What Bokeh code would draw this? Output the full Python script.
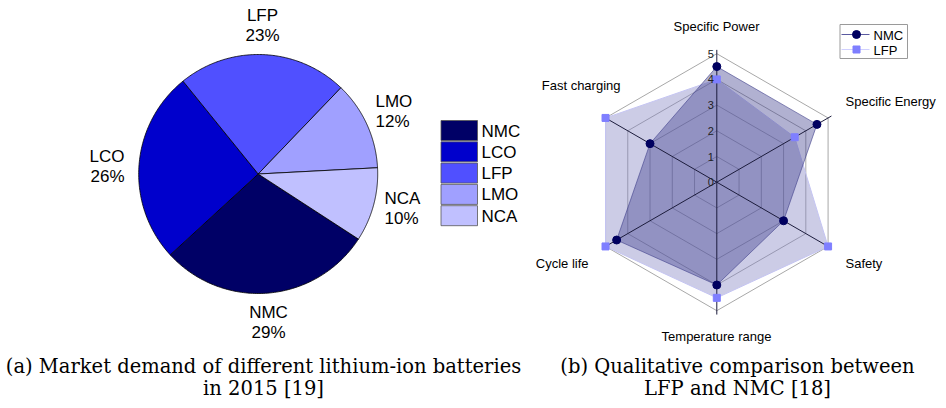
import numpy as np
from bokeh.plotting import figure
from bokeh.models import Range1d
from bokeh.core.properties import value
from bokeh.embed import file_html
from bokeh.resources import INLINE

# ---------------- data ----------------
pie_labels = ["NMC", "LCO", "LFP", "LMO", "NCA"]
pie_shares = [29, 26, 23, 12, 10]
pie_colors = ["#000066", "#0000cc", "#5050ff", "#a0a0ff", "#c0c0ff"]

radar_axes = ["Specific Power", "Specific Energy", "Safety",
              "Temperature range", "Cycle life", "Fast charging"]
nmc_scores = [4.5, 4.5, 3.0, 4.0, 4.5, 3.0]
lfp_scores = [4.0, 3.5, 5.0, 4.5, 5.0, 5.0]
radar_ticks = [0, 1, 2, 3, 4, 5]
series_names = ["NMC", "LFP"]

caption_a = ["(a) Market demand of different lithium-ion batteries", "in 2015 [19]"]
caption_b = ["(b) Qualitative comparison between", "LFP and NMC [18]"]

# ---------------- layout constants ----------------
SANS = "Liberation Sans"
SERIF = "DejaVu Serif"

p = figure(width=938, height=400, output_backend="svg", toolbar_location=None,
           x_range=Range1d(0, 938), y_range=Range1d(400, 0),
           x_axis_location=None, y_axis_location=None, min_border=0,
           outline_line_color=None, background_fill_color="white",
           border_fill_color="white")
p.grid.visible = False

# ---------------- pie ----------------
pcx, pcy, PR = 257.7, 173.5, 119.5
start_deg = -33.0
total = float(sum(pie_shares))
xs, ys = [], []
a0 = start_deg
for s in pie_shares:
    a1 = a0 - 360.0 * s / total
    t = np.radians(np.linspace(a0, a1, 120))
    xs.append([pcx] + list(pcx + PR * np.cos(t)))
    ys.append([pcy] + list(pcy - PR * np.sin(t)))
    a0 = a1
p.patches(xs, ys, fill_color=pie_colors, line_color="black", line_width=0.8)

# pie labels (name + percent), positions are layout
pie_lab_pos = {"NMC": (268, 312, "center"), "LCO": (124, 156, "right"),
               "LFP": (262, 15, "center"), "LMO": (375, 101, "left"),
               "NCA": (384, 198, "left")}
for lab, sh in zip(pie_labels, pie_shares):
    x, y, al = pie_lab_pos[lab]
    p.text([x, x], [y, y + 20], text=[lab, f"{sh}%"], text_align=al,
           text_baseline="middle", text_font=value(SANS),
           text_font_size="17px", text_color="black")

# pie legend
lx0, lx1, ly0, lstep, lh = 440.5, 477, 120, 21.3, 20
for i, (lab, col) in enumerate(zip(pie_labels, pie_colors)):
    top = ly0 + i * lstep
    p.quad(left=[lx0], right=[lx1], top=[top], bottom=[top + lh],
           fill_color=col, line_color="#555555", line_width=0.8)
    p.text([481], [top + lh / 2 + 0.5], text=[lab], text_align="left",
           text_baseline="middle", text_font=value(SANS),
           text_font_size="17px", text_color="black")

# ---------------- radar ----------------
rcx, rcy, unit = 716.3, 181.7, 25.7
n = len(radar_axes)
ang = np.radians([90 - 60 * i for i in range(n)])

def rx(v, a):
    return rcx + np.asarray(v) * unit * np.cos(a)

def ry(v, a):
    return rcy - np.asarray(v) * unit * np.sin(a)

# grid hexagons
for lev in radar_ticks[1:]:
    hx = [rx(lev, a) for a in ang] + [rx(lev, ang[0])]
    hy = [ry(lev, a) for a in ang] + [ry(lev, ang[0])]
    p.line(hx, hy, line_color="#a8a8a8", line_width=1)

# series polygons
lfp_x = [rx(v, a) for v, a in zip(lfp_scores, ang)]
lfp_y = [ry(v, a) for v, a in zip(lfp_scores, ang)]
nmc_x = [rx(v, a) for v, a in zip(nmc_scores, ang)]
nmc_y = [ry(v, a) for v, a in zip(nmc_scores, ang)]
p.patch(lfp_x, lfp_y, fill_color="#8080c0", fill_alpha=0.4,
        line_color="#c4c4f2", line_width=1)
p.patch(nmc_x, nmc_y, fill_color="#3c3c8c", fill_alpha=0.4,
        line_color="#40408a", line_alpha=0.6, line_width=1)

# spokes
rmax = radar_ticks[-1] + 0.15
for a in ang:
    p.line([rcx, rx(rmax, a)], [rcy, ry(rmax, a)], line_color="#1c1c3c",
           line_width=1)

# markers
p.scatter(lfp_x, lfp_y, marker="square", size=7, fill_color="#7f7fff",
          line_color="#7f7fff")
p.scatter(nmc_x, nmc_y, marker="circle", size=8, fill_color="#000060",
          line_color="#000060")

# tick labels
p.text([rcx - 3] * len(radar_ticks), [ry(t, np.pi / 2) for t in radar_ticks],
       text=[str(t) for t in radar_ticks], text_align="right",
       text_baseline="middle", text_font=value(SANS), text_font_size="11px",
       text_color="#222222")

# axis labels (layout positions)
ax_lab_pos = [(716, 26, "center"), (845, 101, "left"), (845, 263, "left"),
              (716, 336, "center"), (588, 263, "right"), (620, 85, "right")]
for lab, (x, y, al) in zip(radar_axes, ax_lab_pos):
    p.text([x], [y], text=[lab], text_align=al, text_baseline="middle",
           text_font=value(SANS), text_font_size="13px", text_color="black")

# radar legend
p.quad(left=[839.5], right=[907], top=[24], bottom=[58], fill_color="white",
       line_color="#9a9a9a", line_width=1)
p.line([841, 869], [34, 34], line_color="#5a5aa0", line_width=1)
p.line([841, 869], [49, 49], line_color="#d0d0ff", line_width=1)
p.scatter([856], [34], marker="circle", size=8, fill_color="#000060",
          line_color="#000060")
p.scatter([856], [49], marker="square", size=7, fill_color="#7f7fff",
          line_color="#7f7fff")
p.text([873, 873], [34.5, 49.5], text=series_names, text_align="left",
       text_baseline="middle", text_font=value(SANS), text_font_size="13px",
       text_color="black")

# ---------------- captions ----------------
p.text([263, 263], [366, 388], text=caption_a, text_align="center",
       text_baseline="middle", text_font=value(SERIF), text_font_size="19.5px",
       text_color="black")
p.text([737, 737], [366, 388], text=caption_b, text_align="center",
       text_baseline="middle", text_font=value(SERIF), text_font_size="19.5px",
       text_color="black")

open("out.html", "w").write(file_html(p, INLINE))
